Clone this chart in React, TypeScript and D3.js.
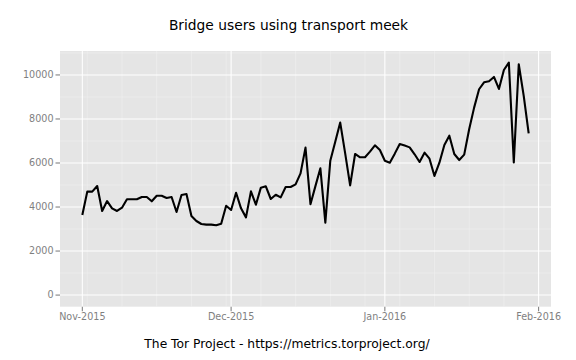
import React from "react";
import * as d3 from "d3";

const startDate = "2015-11-01";
const users: number[] = [
  3640, 4700, 4700, 4955, 3820, 4270, 3940, 3820, 3970, 4350,
  4350, 4350, 4455, 4455, 4260, 4515, 4515, 4410, 4455, 3775,
  4545, 4590, 3590, 3365, 3230, 3200, 3200, 3170, 3240, 4060,
  3865, 4650, 3940, 3530, 4710, 4105, 4880, 4940, 4365, 4560,
  4440, 4910, 4910, 5030, 5530, 6700, 4130, 4950, 5760, 3290,
  6105, 6970, 7835, 6440, 4985, 6410, 6260, 6260, 6515, 6805,
  6590, 6105, 6015, 6425, 6865, 6790, 6710, 6395, 6045, 6470,
  6195, 5410, 6015, 6820, 7240, 6410, 6135, 6380, 7530, 8515,
  9350, 9665, 9710, 9910, 9365, 10225, 10560, 6030, 10485, 9050,
  7350,
];
const yTicks = [0, 2000, 4000, 6000, 8000, 10000];
const xTickDates = ["2015-11-01", "2015-12-01", "2016-01-01", "2016-02-01"];
const title = "Bridge users using transport meek";
const caption = "The Tor Project - https://metrics.torproject.org/";

const parse = d3.utcParse("%Y-%m-%d");
const fmt = d3.utcFormat("%b-%Y");

export default function App() {
  const W = 576, H = 360;
  const left = 60, right = 551, top = 51, bottom = 306.7;
  const t0 = parse(startDate)!;
  const data = users.map((v, i) => ({ date: d3.utcDay.offset(t0, i), v }));
  const xExt = d3.extent(data, (d) => d.date) as [Date, Date];
  const span = +xExt[1] - +xExt[0];
  const x = d3
    .scaleUtc()
    .domain([new Date(+xExt[0] - span * 0.05), new Date(+xExt[1] + span * 0.05)])
    .range([left, right]);
  const yMax = d3.max(users)!;
  const y = d3
    .scaleLinear()
    .domain([-yMax * 0.05, yMax * 1.05])
    .range([bottom, top]);

  const xMajor = xTickDates.map((s) => parse(s)!);
  const xMinor = d3.utcMonday
    .range(x.domain()[0], x.domain()[1])
    .filter((d) => !xMajor.some((m) => +m === +d));
  const yMinor = d3.range(-1000, 12001, 2000).filter((v) => v > y.domain()[0] && v < y.domain()[1]);

  const line = d3
    .line<{ date: Date; v: number }>()
    .x((d) => x(d.date))
    .y((d) => y(d.v));

  const font = "DejaVu Sans, sans-serif";
  return (
    <svg width={W} height={H} style={{ display: "block", position: "absolute", left: 0, top: 0 }}>
      <rect x={0} y={0} width={W} height={H} fill="white" />
      <text x={288.5} y={29.5} textAnchor="middle" fontFamily={font} fontSize={13.8} fill="black">
        {title}
      </text>
      <rect x={left} y={top} width={right - left} height={bottom - top} fill="#E5E5E5" />
      {yMinor.map((v) => (
        <line key={"ym" + v} x1={left} x2={right} y1={y(v)} y2={y(v)} stroke="#F2F2F2" strokeWidth={0.53} />
      ))}
      {xMinor.map((d) => (
        <line key={"xm" + +d} x1={x(d)} x2={x(d)} y1={top} y2={bottom} stroke="#F2F2F2" strokeWidth={0.53} />
      ))}
      {yTicks.map((v) => (
        <line key={"yM" + v} x1={left} x2={right} y1={y(v)} y2={y(v)} stroke="white" strokeWidth={1.07} />
      ))}
      {xMajor.map((d) => (
        <line key={"xM" + +d} x1={x(d)} x2={x(d)} y1={top} y2={bottom} stroke="white" strokeWidth={1.07} />
      ))}
      <path d={line(data)!} fill="none" stroke="black" strokeWidth={2.1} strokeLinejoin="round" />
      {yTicks.map((v) => (
        <g key={"yt" + v}>
          <line x1={left - 4.5} x2={left} y1={y(v)} y2={y(v)} stroke="#7F7F7F" strokeWidth={1.07} />
          <text x={left - 6.5} y={y(v)} dy="0.35em" textAnchor="end" fontFamily={font} fontSize={9.6} fill="#7F7F7F">
            {v}
          </text>
        </g>
      ))}
      {xMajor.map((d) => (
        <g key={"xt" + +d}>
          <line x1={x(d)} x2={x(d)} y1={bottom} y2={bottom + 4.5} stroke="#7F7F7F" strokeWidth={1.07} />
          <text x={x(d)} y={bottom + 13.5} textAnchor="middle" fontFamily={font} fontSize={9.6} fill="#7F7F7F">
            {fmt(d)}
          </text>
        </g>
      ))}
      <text x={287} y={348} textAnchor="middle" fontFamily={font} fontSize={12.3} fill="black">
        {caption}
      </text>
    </svg>
  );
}
